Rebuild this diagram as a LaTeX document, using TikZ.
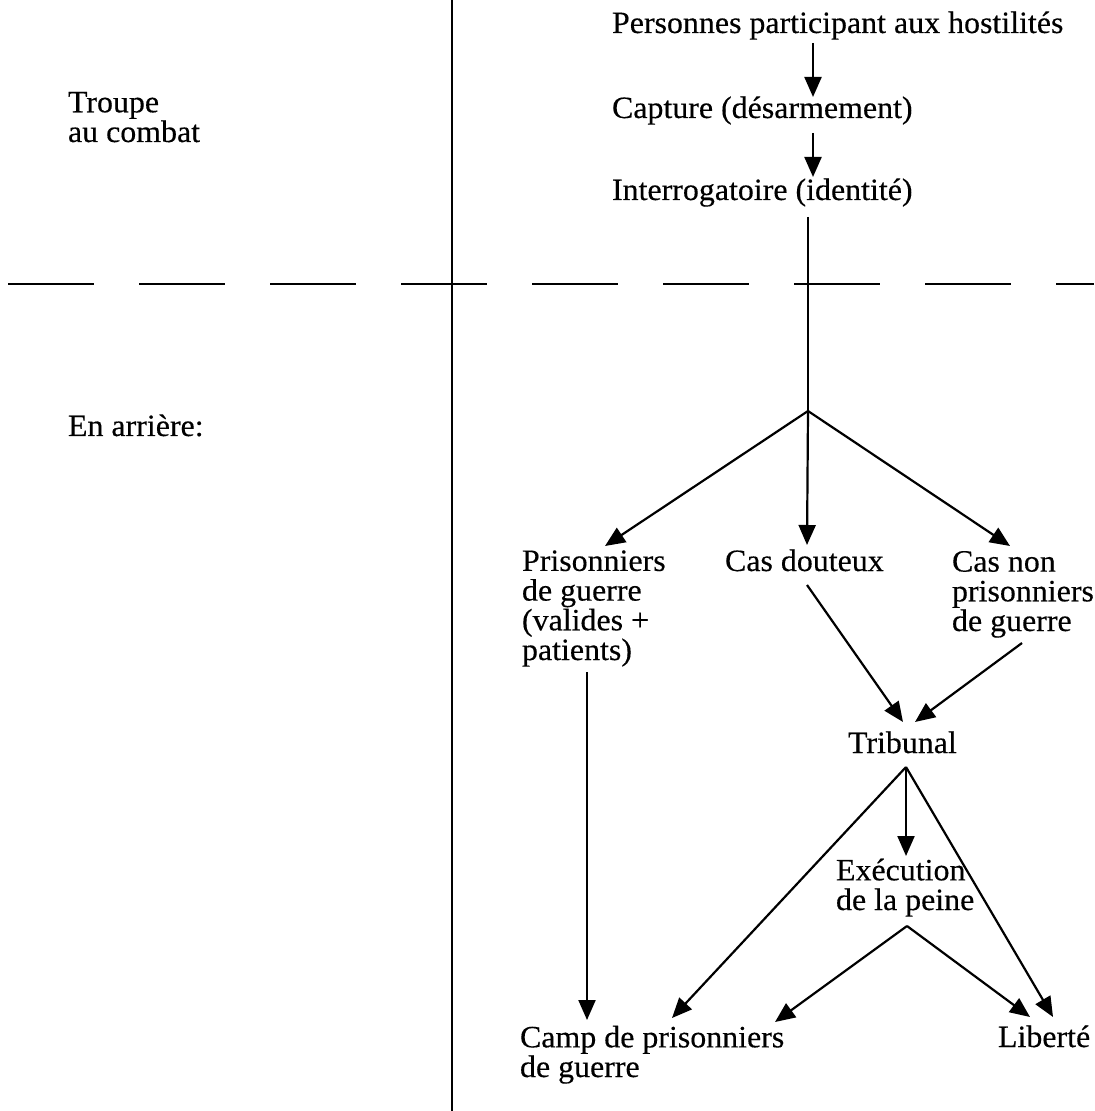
\documentclass[tikz,border=0pt]{standalone}
\usepackage{fontspec}
\setmainfont{Liberation Serif}[FakeStretch=1.03,FakeBold=0.35]
\usetikzlibrary{arrows.meta}
\newcommand{\dfont}{\fontsize{15.5pt}{14.85pt}\selectfont}
\tikzset{
  lbl/.style={inner sep=0pt, outer sep=0pt, align=left, font=\dfont, anchor=base west},
  arr/.style={-{Triangle[length=10pt,width=8.5pt]}, line width=1.1pt},
  rule/.style={line width=1.1pt},
  sepline/.style={line width=1.2pt, dash pattern=on 43pt off 22.5pt}
}
\begin{document}
\begin{tikzpicture}[x=0.5pt,y=-0.5pt]
\useasboundingbox (0,0) rectangle (1094,1111);
% frame lines
\coordinate (vtop) at (452,0);
\coordinate (vbot) at (452,1111);
\coordinate (hl) at (8,284);
\coordinate (hr) at (1094,284);
\draw[rule] (vtop) -- (vbot);
\draw[sepline] (hl) -- (hr);
% left labels (base anchor = baseline of last line)
\node[lbl] (troupe) at (68,142) {Troupe\\au combat};
\node[lbl] (arriere) at (68,436) {En arrière:};
% nodes
\node[lbl] (pers) at (612,33) {Personnes participant aux hostilités};
\node[lbl] (capt) at (612,118) {Capture (désarmement)};
\node[lbl] (inter) at (612,200) {Interrogatoire (identité)};
\node[lbl] (pg) at (522,660) {Prisonniers\\de guerre\\(valides +\\patients)};
\node[lbl] (doute) at (725,571) {Cas douteux};
\node[lbl] (nonpg) at (952,631) {Cas non\\prisonniers\\de guerre};
\node[lbl] (trib) at (848,753) {Tribunal};
\node[lbl] (exec) at (836,910) {Exécution\\de la peine};
\node[lbl] (camp) at (520,1077) {Camp de prisonniers\\de guerre};
\node[lbl] (lib) at (998,1047) {Liberté};
% connector points
\coordinate (p1) at (813,43);  \coordinate (c1) at (813,97);
\coordinate (c2s) at (813,133); \coordinate (i1) at (813,177);
\coordinate (i2) at (808,217); \coordinate (br) at (808,411);
\coordinate (pgt) at (605,546); \coordinate (dt) at (807,545); \coordinate (nt) at (1010,546);
\coordinate (ds) at (807,585); \coordinate (ns) at (1022,643);
\coordinate (tt1) at (903,722); \coordinate (tt2) at (915,722);
\coordinate (pgs) at (587,672); \coordinate (cpt1) at (587,1020);
\coordinate (ta) at (906,767); \coordinate (cpt2) at (672,1018);
\coordinate (et) at (906,856); \coordinate (lt2) at (1053,1017);
\coordinate (ea) at (907,926); \coordinate (cpt3) at (775,1022); \coordinate (lt1) at (1030,1017);
% connectors
\draw[arr] (p1) -- (c1);
\draw[arr] (c2s) -- (i1);
\draw[rule] (i2) -- (br);
\draw[arr] (br) -- (pgt);
\draw[arr] (br) -- (dt);
\draw[arr] (br) -- (nt);
\draw[arr] (ds) -- (tt1);
\draw[arr] (ns) -- (tt2);
\draw[arr] (pgs) -- (cpt1);
\draw[arr] (ta) -- (cpt2);
\draw[arr] (ta) -- (et);
\draw[arr] (ta) -- (lt2);
\draw[arr] (ea) -- (cpt3);
\draw[arr] (ea) -- (lt1);
\end{tikzpicture}
\end{document}
